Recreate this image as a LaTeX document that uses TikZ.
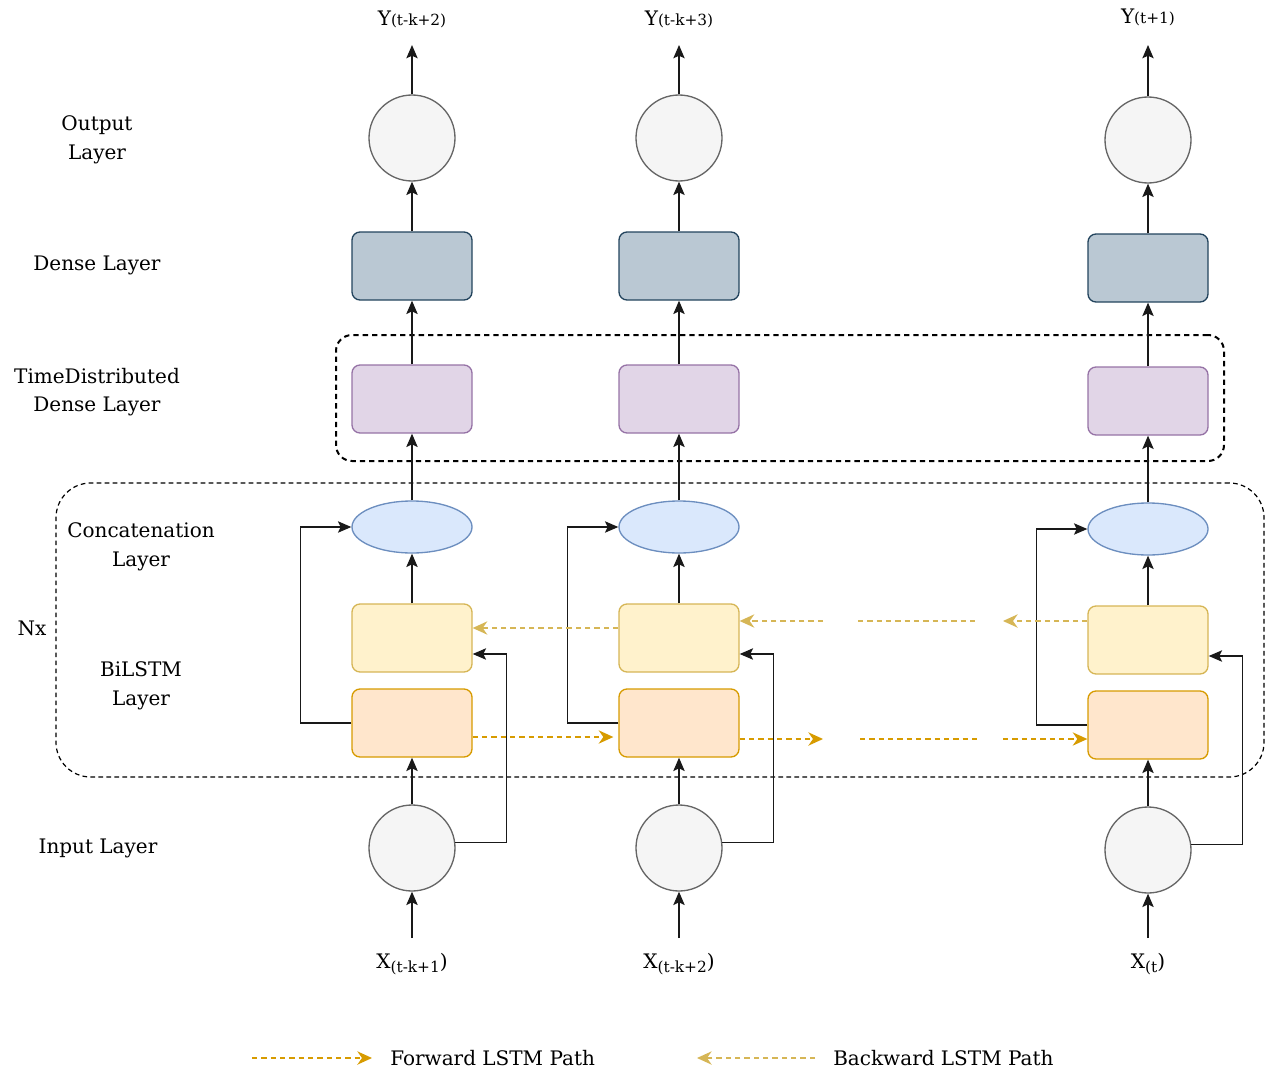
\documentclass[tikz,border=0pt]{standalone}
\usepackage{fontspec}
\setmainfont{DejaVu Serif}
\usetikzlibrary{arrows.meta,calc,shapes.geometric}
\definecolor{denseF}{HTML}{BAC8D3}
\definecolor{denseD}{HTML}{23445D}
\definecolor{tdF}{HTML}{E1D5E7}
\definecolor{tdD}{HTML}{9673A6}
\definecolor{ccF}{HTML}{DAE8FC}
\definecolor{ccD}{HTML}{6C8EBF}
\definecolor{bwF}{HTML}{FFF2CC}
\definecolor{bwD}{HTML}{D6B656}
\definecolor{fwF}{HTML}{FFE6CC}
\definecolor{fwD}{HTML}{D79B00}
\definecolor{circF}{HTML}{F5F5F5}
\definecolor{circD}{HTML}{666666}
\begin{document}
\begin{tikzpicture}[x=0.75pt,y=-0.75pt,
  lbl/.style={font=\fontsize{15}{21.5}\selectfont, align=center, inner sep=0pt},
  box/.style={rectangle, rounded corners=6pt, minimum width=90pt, minimum height=51pt, line width=1pt, inner sep=0pt},
  densebox/.style={box, fill=denseF, draw=denseD},
  tdbox/.style={box, fill=tdF, draw=tdD},
  bwbox/.style={box, fill=bwF, draw=bwD},
  fwbox/.style={box, fill=fwF, draw=fwD},
  cc/.style={ellipse, minimum width=90pt, minimum height=39pt, fill=ccF, draw=ccD, line width=1pt, inner sep=0pt},
  circ/.style={circle, minimum size=64.5pt, fill=circF, draw=circD, line width=1pt, inner sep=0pt},
  arr/.style={-{Stealth[length=10pt,width=8.5pt,inset=2pt]}, line width=1.1pt, black!90},
  fwarr/.style={line width=1.1pt, draw=fwD, dash pattern=on 4pt off 3pt, -{Stealth[length=11pt,width=10pt,inset=3.5pt]}},
  bwarr/.style={line width=1.1pt, draw=bwD, dash pattern=on 4pt off 3pt, -{Stealth[length=11pt,width=10pt,inset=3.5pt]}},
  fwline/.style={line width=1.1pt, draw=fwD, dash pattern=on 4pt off 3pt},
  bwline/.style={line width=1.1pt, draw=bwD, dash pattern=on 4pt off 3pt}
]
\useasboundingbox (0,0) rectangle (1268,1074);

% group frames
\node[draw, line width=1.5pt, dash pattern=on 4pt off 3pt, rounded corners=12pt, minimum width=666pt, minimum height=94.5pt, inner sep=0pt] (tdgroup) at (780,398) {};
\node[draw, line width=0.9pt, dash pattern=on 3.5pt off 2.5pt, rounded corners=26pt, minimum width=906pt, minimum height=220.5pt, inner sep=0pt] (nxgroup) at (660,630) {};

% left labels
\node[lbl] (lout) at (97,140) {Output\\Layer};
\node[lbl] (lden) at (97,265) {Dense Layer};
\node[lbl] (ltd) at (97,392) {TimeDistributed\\Dense Layer};
\node[lbl] (lcc) at (141,547) {Concatenation\\Layer};
\node[lbl] (lnx) at (32,628) {Nx};
\node[lbl] (lbi) at (141,686) {BiLSTM\\Layer};
\node[lbl] (lin) at (98,848) {Input Layer};

% columns
\foreach \i/\x/\d in {1/412/0, 2/679/0, 3/1148/2} {
  \node[circ] (out\i) at (\x,{138+\d}) {};
  \node[densebox] (den\i) at (\x,{266+\d}) {};
  \node[tdbox] (td\i) at (\x,{399+\d}) {};
  \node[cc] (cc\i) at (\x,{527+\d}) {};
  \node[bwbox] (bw\i) at (\x,{638+\d}) {};
  \node[fwbox] (fw\i) at (\x,{723+\d}) {};
  \node[circ] (in\i) at (\x,{848+\d}) {};
  \coordinate (ytop\i) at (\x,45);
  \coordinate (xbot\i) at (\x,938);
}

% top / bottom labels
\node[lbl, anchor=south] (y1) at (412,28) {Y{\fontsize{11.5}{12}\selectfont(t-k+2)}};
\node[lbl, anchor=south] (y2) at (679,28) {Y{\fontsize{11.5}{12}\selectfont(t-k+3)}};
\node[lbl, anchor=south] (y3) at (1148,26) {Y{\fontsize{11.5}{12}\selectfont(t+1)}};
\node[lbl, anchor=base] (x1) at (412,968) {X\raisebox{-0.45ex}{\fontsize{11.5}{12}\selectfont(t-k+1}){}};
\node[lbl, anchor=base] (x2) at (679,968) {X\raisebox{-0.45ex}{\fontsize{11.5}{12}\selectfont(t-k+2}){}};
\node[lbl, anchor=base] (x3) at (1148,968) {X\raisebox{-0.45ex}{\fontsize{11.5}{12}\selectfont(t}){}};

% vertical flow and skip connections
\foreach \i in {1,2,3} {
  \draw[arr] (xbot\i) -- (in\i.south);
  \draw[arr] (in\i.north) -- (fw\i.south);
  \draw[arr] (bw\i.north) -- (cc\i.south);
  \draw[arr] (cc\i.north) -- (td\i.south);
  \draw[arr] (td\i.north) -- (den\i.south);
  \draw[arr] (den\i.north) -- (out\i.south);
  \draw[arr] (out\i.north) -- (ytop\i);
  \draw[arr] (in\i.7) -- ++(51,0) |- ($(bw\i.east)+(0,16)$);
  \draw[arr] (fw\i.west) -- ++(-51,0) |- (cc\i.west);
}

% forward path
\coordinate (f2a) at (823,739);
\coordinate (f3a) at (860,739);
\coordinate (f3b) at (980,739);
\coordinate (f3c) at (1003,739);
\draw[fwarr] ($(fw1.east)+(0,14)$) -- ($(fw2.west)+(-5,14)$);
\draw[fwarr] ($(fw2.east)+(0,16)$) -- (f2a);
\draw[fwline] (f3a) -- (f3b);
\draw[fwarr] (f3c) -- ($(fw3.west)+(0,14)$);

% backward path
\coordinate (b2a) at (823,621);
\coordinate (b3a) at (858,621);
\coordinate (b3b) at (978,621);
\coordinate (b3c) at (1003,621);
\draw[bwarr] ($(bw2.west)+(0,-10)$) -- ($(bw1.east)+(0,-10)$);
\draw[bwarr] (b2a) -- ($(bw2.east)+(0,-17)$);
\draw[bwline] (b3a) -- (b3b);
\draw[bwarr] ($(bw3.west)+(0,-19)$) -- (b3c);

% legend
\coordinate (lf1) at (252,1058);
\coordinate (lf2) at (372,1058);
\coordinate (lb1) at (815,1058);
\coordinate (lb2) at (697,1058);
\draw[fwarr] (lf1) -- (lf2);
\node[lbl, anchor=west] (lfw) at (390,1058) {Forward LSTM Path};
\draw[bwarr] (lb1) -- (lb2);
\node[lbl, anchor=west] (lbw) at (833,1058) {Backward LSTM Path};
\end{tikzpicture}
\end{document}
